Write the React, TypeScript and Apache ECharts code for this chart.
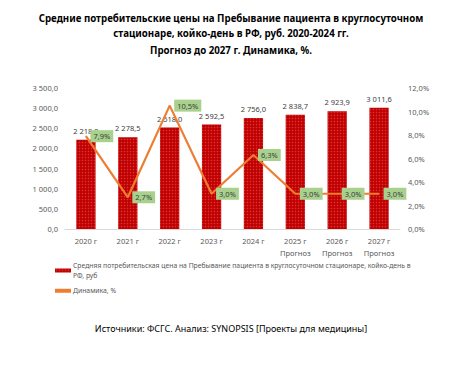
import React, { useEffect, useRef } from "react";
import * as echarts from "echarts";

const categories = ["2020 г", "2021 г", "2022 г", "2023 г", "2024 г", "2025 г\nПрогноз", "2026 г\nПрогноз", "2027 г\nПрогноз"];
const prices = [2218.0, 2278.5, 2518.0, 2592.5, 2756.0, 2838.7, 2923.9, 3011.6];
const dynamics = [7.9, 2.7, 10.5, 3.0, 6.3, 3.0, 3.0, 3.0];
const leftTicks = { min: 0, max: 3500, interval: 500 };
const rightTicks = { min: 0, max: 12, interval: 2 };
const titleLines = [
  "Средние потребительские цены на Пребывание пациента в круглосуточном",
  "стационаре, койко-день в РФ, руб. 2020-2024 гг.",
  "Прогноз до 2027 г. Динамика, %.",
];
const barName = "Средняя потребительская цена на Пребывание пациента в круглосуточном стационаре, койко-день в РФ, руб";
const lineName = "Динамика, %";
const sourceText = "Источники: ФСГС. Анализ: SYNOPSIS [Проекты для медицины]";

const fmt = (v: number, d: number) => {
  const s = v.toFixed(d).replace(".", ",");
  const [i, f] = s.split(",");
  const ii = i.replace(/\B(?=(\d{3})+(?!\d))/g, " ");
  return f !== undefined ? ii + "," + f : ii;
};

export default function App() {
  const ref = useRef<HTMLDivElement>(null);
  useEffect(() => {
    if (!ref.current) return;
    const chart = echarts.init(ref.current, undefined, { renderer: "svg" });
    const font = "Noto Sans";
    const titleTops = [13, 28, 45];
    chart.setOption({
      animation: false,
      backgroundColor: "#ffffff",
      textStyle: { fontFamily: font },
      title: [
        ...titleLines.map((t, i) => ({
          text: t,
          left: "center",
          top: titleTops[i],
          padding: 0,
          textStyle: { fontSize: 9.7, fontWeight: "bold", color: "#000", fontFamily: font },
        })),
        {
          text: sourceText,
          left: "center",
          top: 324,
          padding: 0,
          textStyle: { fontSize: 9, fontWeight: "normal", color: "#000", fontFamily: font },
        },
      ],
      grid: { left: 65, right: 62, top: 88, bottom: 137, containLabel: false },
      legend: {
        orient: "vertical",
        left: 55,
        top: 261,
        padding: 0,
        itemGap: 6,
        itemWidth: 16,
        itemHeight: 4,
        textStyle: { fontSize: 6.8, color: "#595959", fontFamily: font, lineHeight: 9.5, padding: [0, 0, 0, -3] },
        formatter: (n: string) => (n === barName ? "Средняя потребительская цена на Пребывание пациента в круглосуточном стационаре, койко-день в\nРФ, руб" : n),
        data: [
          { name: barName, icon: "rect" },
          { name: lineName, icon: "rect", itemStyle: { color: "#ED7D31" } },
        ],
      },
      xAxis: {
        type: "category",
        data: categories,
        axisLine: { lineStyle: { color: "#d9d9d9" } },
        axisTick: { show: false },
        axisLabel: { fontSize: 7.5, color: "#595959", lineHeight: 12, margin: 6, fontFamily: font },
      },
      yAxis: [
        {
          type: "value",
          ...leftTicks,
          splitLine: { show: false },
          axisLine: { show: false },
          axisTick: { show: false },
          axisLabel: { fontSize: 7.5, color: "#595959", margin: 7, formatter: (v: number) => fmt(v, 1), fontFamily: font },
        },
        {
          type: "value",
          ...rightTicks,
          splitLine: { show: false },
          axisLine: { show: false },
          axisTick: { show: false },
          axisLabel: { fontSize: 7.5, color: "#595959", margin: 8, formatter: (v: number) => fmt(v, 1) + "%", fontFamily: font },
        },
      ],
      series: [
        {
          name: barName,
          type: "bar",
          data: prices,
          barWidth: "46%",
          itemStyle: {
            color: "#C00000",
            decal: {
              symbol: "circle",
              symbolSize: 0.5,
              dashArrayX: [2.5, 0],
              dashArrayY: [2.5, 0],
              color: "rgba(255,130,130,0.4)",
            },
          },
          label: {
            show: true,
            position: "top",
            distance: 5,
            fontSize: 7.5,
            color: "#404040",
            formatter: (p: any) => fmt(p.value, 1),
            fontFamily: font,
          },
        },
        {
          name: lineName,
          type: "line",
          yAxisIndex: 1,
          data: dynamics,
          showSymbol: true,
          symbol: "circle",
          symbolSize: 1,
          lineStyle: { color: "#ED7D31", width: 2.2 },
          itemStyle: { color: "#ED7D31" },
          label: {
            show: true,
            position: "right",
            distance: 4,
            fontSize: 7.5,
            color: "#404040",
            backgroundColor: "#A9D18E",
            padding: [2, 3, 2, 3],
            formatter: (p: any) => fmt(p.value, 1) + "%",
            fontFamily: font,
          },
        },
      ],
    });
    return () => chart.dispose();
  }, []);
  return <div ref={ref} style={{ width: 462, height: 366, position: "absolute", left: 0, top: 0 }} />;
}
